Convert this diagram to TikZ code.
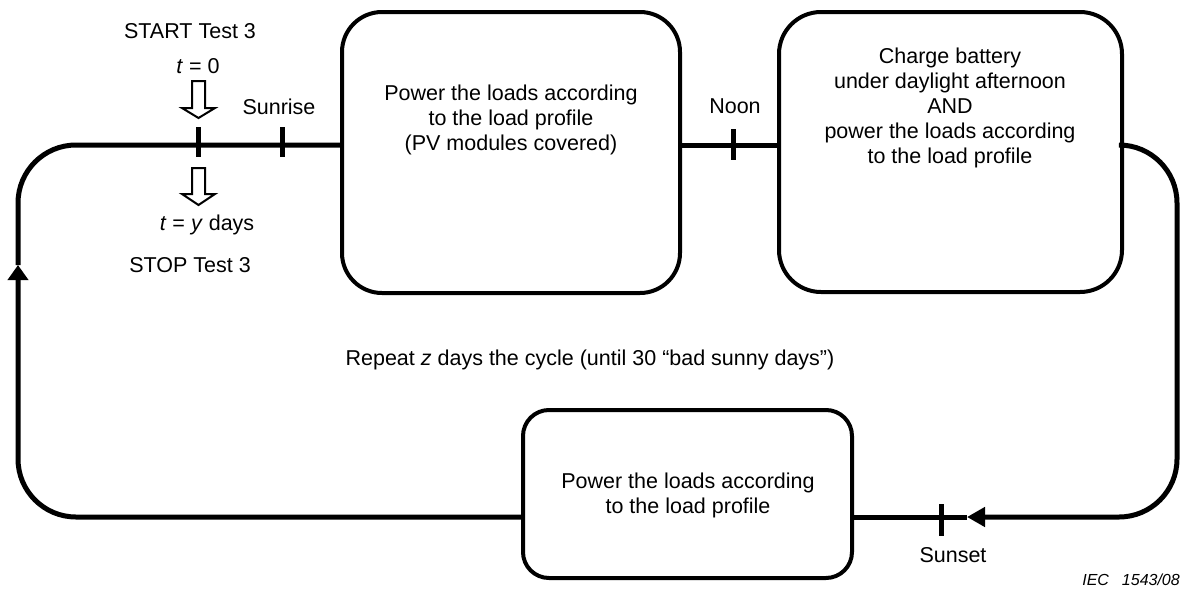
\documentclass[tikz,border=0pt]{standalone}
\usepackage{fontspec}
\setmainfont{Liberation Sans}
\usetikzlibrary{arrows.meta}
\begin{document}
\begin{tikzpicture}[x=1pt,y=-1pt,
  box/.style={draw, line width=4pt, inner sep=0pt},
  loopline/.style={line width=5pt},
  txt/.style={font=\fontsize{21.5}{25}\selectfont, align=center, inner sep=0pt},
  tickmark/.style={line width=5pt},
  hollow/.style={draw, line width=2pt, fill=white, line join=miter},
  tipL/.style={-{Triangle[width=20pt,length=15pt]}},
  tipB/.style={-{Triangle[width=19pt,length=18pt]}}]
\useasboundingbox (0,0) rectangle (1184,592);

% boxes
\node[box, rounded corners=40pt, minimum width=338pt, minimum height=281pt] (b1) at (511,152.5) {};
\node[box, rounded corners=42pt, minimum width=343pt, minimum height=280pt] (b2) at (950.5,152) {};
\node[box, rounded corners=26pt, minimum width=329pt, minimum height=168pt] (b3) at (687.5,494) {};

% box texts
\node[txt] (t1) at (511,120) {Power the loads according\\to the load profile\\(PV modules covered)};
\node[txt] (t2) at (950,108) {Charge battery\\under daylight afternoon\\AND\\power the loads according\\to the load profile};
\node[txt] (t3) at (688,495) {Power the loads according\\to the load profile};

% helper coordinates
\coordinate (ym) at (0,145);
\coordinate (arrL) at (18,265);
\coordinate (arrB) at (967,517);

% loop
\draw[loopline, rounded corners=58pt, tipL] (b3.west |- arrB) -- (18,517) -- (arrL);
\draw[loopline, rounded corners=58pt] (arrL) -- (18,145) -- (b1.west |- ym);
\draw[loopline] (b1.east |- ym) -- (b2.west |- ym);
\draw[loopline, rounded corners=58pt, tipB] (b2.east |- ym) -- (1177,145) -- (1177,517) -- (arrB);
\draw[loopline] (arrB) -- (b3.east |- arrB);

% ticks
\draw[tickmark] (198,127) -- (198,157);
\draw[tickmark] (282,127) -- (282,157);
\draw[tickmark] (733,129) -- (733,160);
\draw[tickmark] (941,504) -- (941,536);

% hollow arrows
\draw[hollow] (192,81) -- (205,81) -- (205,108) -- (215,108) -- (198.5,118) -- (182,108) -- (192,108) -- cycle;
\draw[hollow] (192,168) -- (205,168) -- (205,194) -- (215,194) -- (198.5,205) -- (182,194) -- (192,194) -- cycle;

% labels
\node[txt, anchor=base] (start) at (190,38) {START Test 3};
\node[txt, anchor=base] (tzero) at (198,73) {\textit{t} = 0};
\node[txt, anchor=base] (sunrise) at (279,114) {Sunrise};
\node[txt, anchor=base] (ty) at (207,230) {\textit{t} = \textit{y} days};
\node[txt, anchor=base] (stop) at (190,272) {STOP Test 3};
\node[txt, anchor=base] (noon) at (735,113) {Noon};
\node[txt, anchor=base] (sunset) at (953,562) {Sunset};
\node[txt, anchor=base] (repeat) at (590,365) {Repeat \textit{z} days the cycle (until 30 “bad sunny days”)};
\node[font=\fontsize{16}{19}\selectfont\itshape, anchor=base east, inner sep=0pt] (iec) at (1180,585) {IEC\hspace{13pt}1543/08};
\end{tikzpicture}
\end{document}
